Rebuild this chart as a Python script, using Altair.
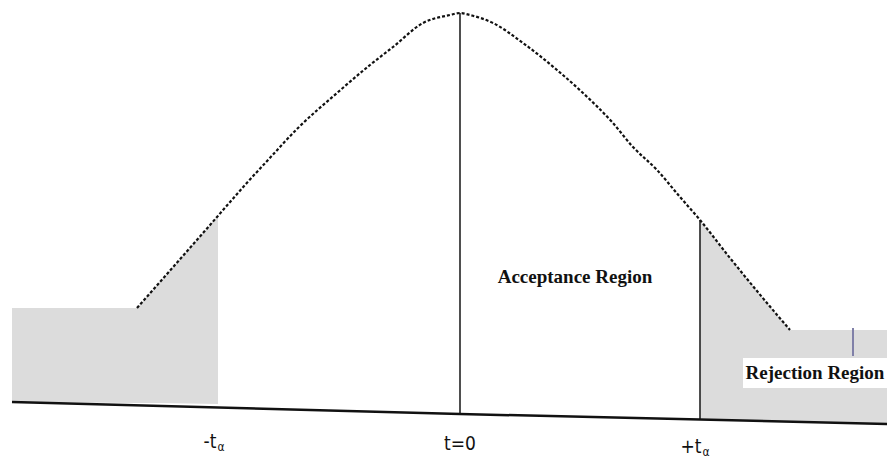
import altair as alt
import pandas as pd

# Density curve (t value, height)
curve_t = [-3.23, -3.00, -2.43, -2.15, -1.92, -1.62, -1.23, -0.90, -0.67, -0.37, -0.10, 0.00,
           0.10, 0.33, 0.63, 0.97, 1.23, 1.52, 1.73, 1.97, 2.20, 2.40, 2.70, 3.07, 3.30]
curve_d = [0.106, 0.132, 0.197, 0.229, 0.254, 0.286, 0.321, 0.349, 0.367, 0.391, 0.399, 0.401,
           0.399, 0.391, 0.371, 0.344, 0.321, 0.292, 0.267, 0.244, 0.217, 0.194, 0.156, 0.111, 0.084]

# Left rejection region (shaded)
left_t = [-4.48, -3.23, -3.00, -2.42]
left_top = [0.106, 0.106, 0.132, 0.198]
left_bot = [0.012, 0.011, 0.011, 0.010]

# Right rejection region (shaded)
right_t = [2.40, 2.70, 3.07, 3.30, 4.30]
right_top = [0.194, 0.156, 0.111, 0.084, 0.084]
right_bot = [-0.005, -0.006, -0.007, -0.008, -0.010]

# Base line
base_t = [-4.48, 0.00, 4.30]
base_d = [0.012, 0.000, -0.010]

# Axis labels
tick_labels = ["-t", "t=0", "+t"]
tick_t = [-2.50, 0.00, 2.31]
tick_d = [-0.028, -0.030, -0.033]
sub_labels = ["α", "α"]
sub_t = [-2.39, 2.46]
sub_d = [-0.033, -0.038]

region_labels = ["Acceptance Region", "Rejection Region"]
region_t = [1.15, 3.55]
region_d = [0.137, 0.041]

X = alt.Scale(domain=[-4.52, 4.27], nice=False, zero=False)
Y = alt.Scale(domain=[-0.036, 0.406], nice=False, zero=False)

curve = pd.DataFrame({"t": curve_t, "d": curve_d})
left = pd.DataFrame({"t": left_t, "top": left_top, "bot": left_bot})
right = pd.DataFrame({"t": right_t, "top": right_top, "bot": right_bot})
base = pd.DataFrame({"t": base_t, "d": base_d})
ticks = pd.DataFrame({"t": tick_t, "d": tick_d, "label": tick_labels})
subs = pd.DataFrame({"t": sub_t, "d": sub_d, "label": sub_labels})
regions = pd.DataFrame({"t": region_t, "d": region_d, "label": region_labels})
box = pd.DataFrame({"t": [2.83], "t2": [4.30], "d": [0.026], "d2": [0.056]})
rules = pd.DataFrame({"t": [0.0, 2.40], "d": [0.0, -0.005], "d2": [0.401, 0.194]})
mark = pd.DataFrame({"t": [3.93], "d": [0.058], "d2": [0.086]})

noax = dict(axis=None)

shade_l = alt.Chart(left).mark_area(color="#dcdcdc").encode(
    x=alt.X("t:Q", scale=X, **noax), y=alt.Y("top:Q", scale=Y, **noax), y2="bot:Q")
shade_r = alt.Chart(right).mark_area(color="#dcdcdc").encode(
    x=alt.X("t:Q", scale=X, **noax), y=alt.Y("top:Q", scale=Y, **noax), y2="bot:Q")
boxc = alt.Chart(box).mark_rect(color="white").encode(
    x=alt.X("t:Q", scale=X, **noax), x2="t2:Q",
    y=alt.Y("d:Q", scale=Y, **noax), y2="d2:Q")
markc = alt.Chart(mark).mark_rule(color="#8080a8", strokeWidth=2).encode(
    x=alt.X("t:Q", scale=X, **noax), y=alt.Y("d:Q", scale=Y, **noax), y2="d2:Q")
rulec = alt.Chart(rules).mark_rule(color="#222222", strokeWidth=1.6).encode(
    x=alt.X("t:Q", scale=X, **noax), y=alt.Y("d:Q", scale=Y, **noax), y2="d2:Q")
basec = alt.Chart(base).mark_line(color="#111111", strokeWidth=2.5).encode(
    x=alt.X("t:Q", scale=X, **noax), y=alt.Y("d:Q", scale=Y, **noax))
curvec = alt.Chart(curve).mark_line(color="#111111", strokeWidth=2.2, strokeDash=[3, 2],
                                    interpolate="monotone").encode(
    x=alt.X("t:Q", scale=X, **noax), y=alt.Y("d:Q", scale=Y, **noax))
tickc = alt.Chart(ticks).mark_text(
    font="Liberation Sans Narrow, DejaVu Sans Condensed, sans-serif", fontSize=19,
    color="#111111", align="center", baseline="middle").encode(
    x=alt.X("t:Q", scale=X, **noax), y=alt.Y("d:Q", scale=Y, **noax), text="label:N")
subc = alt.Chart(subs).mark_text(
    font="Liberation Sans Narrow, DejaVu Sans Condensed, sans-serif", fontSize=12,
    color="#111111", align="center", baseline="middle").encode(
    x=alt.X("t:Q", scale=X, **noax), y=alt.Y("d:Q", scale=Y, **noax), text="label:N")
regc = alt.Chart(regions).mark_text(
    font="Liberation Serif, Times New Roman, serif", fontSize=19, fontWeight="bold",
    color="#111111", align="center", baseline="middle").encode(
    x=alt.X("t:Q", scale=X, **noax), y=alt.Y("d:Q", scale=Y, **noax), text="label:N")

chart = alt.layer(
    shade_l, shade_r, boxc, markc, rulec, basec, curvec, tickc, subc, regc
).properties(
    width=879, height=442, background="white",
    padding={"left": 0, "top": 0, "right": 0, "bottom": 8},
    autosize=alt.AutoSizeParams(type="none")
).configure_view(stroke=None)

chart.save("out.html", embed_options={"renderer": "svg", "actions": False})
